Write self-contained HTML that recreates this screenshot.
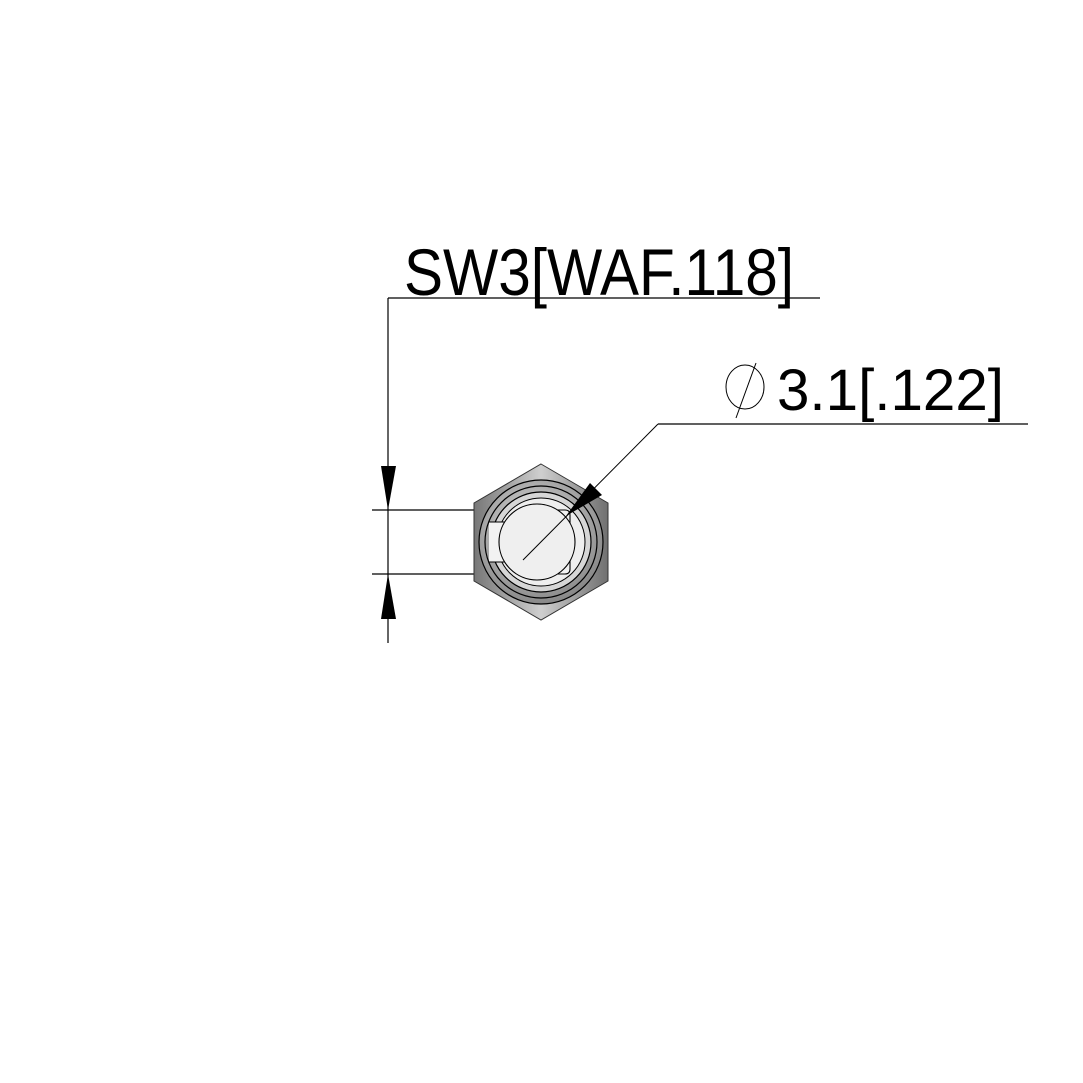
<!DOCTYPE html>
<html><head><style>html,body{margin:0;padding:0;background:#fff}svg{display:block}</style></head>
<body>
<svg width="1083" height="1083" viewBox="0 0 1083 1083" xmlns="http://www.w3.org/2000/svg">
<defs>
<linearGradient id="hg" x1="0" y1="0" x2="1" y2="0">
<stop offset="0" stop-color="#777"/><stop offset="0.5" stop-color="#cfcfcf"/><stop offset="1" stop-color="#707070"/>
</linearGradient>
<radialGradient id="rg" cx="0.45" cy="0.4" r="0.6">
<stop offset="0" stop-color="#e6e6e6"/><stop offset="1" stop-color="#888"/>
</radialGradient>
</defs>
<g stroke="#000" stroke-width="1.2" fill="none">
<line x1="388" y1="298" x2="820" y2="298"/>
<line x1="388" y1="298" x2="388" y2="643"/>
<line x1="372" y1="510" x2="502" y2="510"/>
<line x1="372" y1="574" x2="502" y2="574"/>
<line x1="658" y1="424" x2="1028" y2="424"/>
</g>
<polygon points="541,464 608,503 608,581 541,620 474,581 474,503" fill="url(#hg)" stroke="#333" stroke-width="1"/>
<circle cx="541" cy="542" r="62" fill="url(#rg)" stroke="#000" stroke-width="1.2"/>
<circle cx="541" cy="542" r="56" fill="none" stroke="#000" stroke-width="1.2"/>
<circle cx="541" cy="542" r="50" fill="#d6d6d6" stroke="#000" stroke-width="1.2"/>
<circle cx="541" cy="542" r="44" fill="#eeeeee" stroke="#000" stroke-width="1"/>
<path d="M489,522 L510,522 Q512,512 520,510 L565,510 Q570,510 570,515 L570,569 Q570,574 565,574 L520,574 Q512,572 510,562 L489,562" fill="#f2f2f2" stroke="#000" stroke-width="1.1"/>
<circle cx="537" cy="542" r="38" fill="#efefef" stroke="#000" stroke-width="1.1"/>
<line x1="658" y1="424" x2="523" y2="560" stroke="#000" stroke-width="1"/>
<polygon points="566,516 590,483 602,495" fill="#000"/>
<polygon points="381,466 396,466 388,510" fill="#000"/>
<polygon points="381,619 396,619 388,574" fill="#000"/>
<g font-family="Liberation Sans, sans-serif" fill="#000">
<text x="404" y="295" font-size="66" textLength="390" lengthAdjust="spacingAndGlyphs">SW3[WAF.118]</text>
<text x="777" y="410" font-size="58" textLength="227" lengthAdjust="spacingAndGlyphs">3.1[.122]</text>
</g>
<ellipse cx="745" cy="387" rx="19" ry="22" fill="none" stroke="#000" stroke-width="1"/>
<line x1="756" y1="363" x2="736" y2="418" stroke="#000" stroke-width="1"/>
</svg>
</body></html>
